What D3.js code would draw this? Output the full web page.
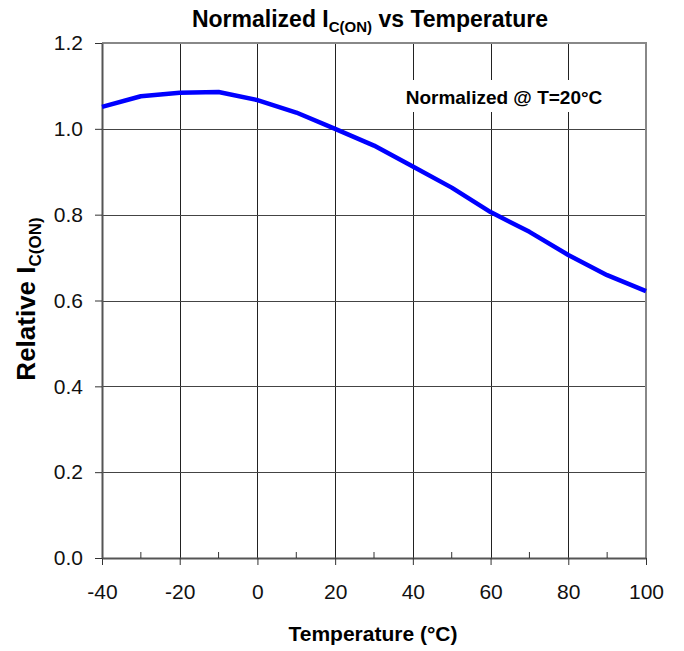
<!DOCTYPE html>
<html lang="en">
<head>
<meta charset="UTF-8">
<title>Normalized IC(ON) vs Temperature</title>
<script src="https://cdnjs.cloudflare.com/ajax/libs/d3/7.8.5/d3.min.js"></script>
<style>
    body { margin: 0; background: #fff; }
    svg { display: block; font-family: "Liberation Sans", Arial, sans-serif; }
</style>
</head>
<body>
<div id="wrapper"></div>
<script>
// values
const temps = [-40, -30, -20, -10, 0, 10, 20, 30, 40, 50, 60, 70, 80, 90, 100];
const relIc = [1.051, 1.076, 1.084, 1.086, 1.067, 1.038, 1.0, 0.961, 0.912, 0.863, 0.806, 0.760, 0.706, 0.659, 0.622];
const xTicks = [-40, -20, 0, 20, 40, 60, 80, 100];
const xMinorTicks = [-30, -10, 10, 30, 50, 70, 90];
const yTicks = [0, 0.2, 0.4, 0.6, 0.8, 1.0, 1.2];
const note = "Normalized @ T=20°C";

const dimensions = {
    width: 684,
    height: 651,
    margin: { top: 43, right: 38, bottom: 93, left: 102 },
}
dimensions.boundedWidth = dimensions.width - dimensions.margin.left - dimensions.margin.right
dimensions.boundedHeight = dimensions.height - dimensions.margin.top - dimensions.margin.bottom

const svg = d3.select("#wrapper").append("svg")
    .attr("width", dimensions.width)
    .attr("height", dimensions.height);

const bounds = svg.append("g")
    .attr("transform", `translate(${dimensions.margin.left},${dimensions.margin.top})`);

const xScale = d3.scaleLinear().domain([-40, 100]).range([0, dimensions.boundedWidth]);
const yScale = d3.scaleLinear().domain([0, 1.2]).range([dimensions.boundedHeight, 0]);

// grid
bounds.append("g").selectAll("line")
    .data(xTicks.slice(1, -1))
    .join("line")
    .attr("x1", d => Math.round(xScale(d)) + 0.5).attr("x2", d => Math.round(xScale(d)) + 0.5)
    .attr("y1", 0).attr("y2", dimensions.boundedHeight)
    .attr("stroke", "#222").attr("stroke-width", 1);

bounds.append("g").selectAll("line")
    .data(yTicks.slice(1, -1))
    .join("line")
    .attr("x1", 0).attr("x2", dimensions.boundedWidth)
    .attr("y1", d => Math.round(yScale(d)) + 0.5).attr("y2", d => Math.round(yScale(d)) + 0.5)
    .attr("stroke", "#444").attr("stroke-width", 1);

// frame top / right
bounds.append("path")
    .attr("d", `M0,0H${dimensions.boundedWidth}V${dimensions.boundedHeight}`)
    .attr("fill", "none").attr("stroke", "#888").attr("stroke-width", 2);

// x axis
const xAxis = bounds.append("g")
    .attr("transform", `translate(0,${dimensions.boundedHeight})`)
    .call(d3.axisBottom(xScale).tickValues(xTicks).tickFormat(d => String(d))
        .tickSize(7).tickSizeOuter(0).tickPadding(19));
xAxis.select(".domain").attr("stroke", "#555").attr("stroke-width", 2);
xAxis.selectAll(".tick line").attr("stroke", "#333");
xAxis.selectAll("text").attr("font-size", 21).attr("font-family", "Liberation Sans, Arial, sans-serif").attr("fill", "#111");

bounds.append("g")
    .attr("transform", `translate(0,${dimensions.boundedHeight})`)
    .selectAll("line")
    .data(xMinorTicks)
    .join("line")
    .attr("x1", d => xScale(d)).attr("x2", d => xScale(d))
    .attr("y1", 0).attr("y2", -6)
    .attr("stroke", "#333");

// y axis
const yAxis = bounds.append("g")
    .call(d3.axisLeft(yScale).tickValues(yTicks).tickFormat(d3.format(".1f")).tickSize(7).tickSizeOuter(0).tickPadding(12));
yAxis.select(".domain").attr("stroke", "#555").attr("stroke-width", 2);
yAxis.selectAll(".tick line").attr("stroke", "#333");
yAxis.selectAll("text").attr("font-size", 21).attr("font-family", "Liberation Sans, Arial, sans-serif").attr("fill", "#111");

// note box
const noteG = bounds.append("g");
noteG.append("rect")
    .attr("x", 294).attr("y", 37).attr("width", 216).attr("height", 32)
    .attr("fill", "#fff");
noteG.append("text")
    .attr("x", 402).attr("y", 61)
    .attr("text-anchor", "middle")
    .attr("font-size", 19).attr("font-weight", "bold")
    .text(note);

// curve
const line = d3.line()
    .x((d, i) => xScale(temps[i]))
    .y(d => yScale(d));

bounds.append("path")
    .datum(relIc)
    .attr("d", line)
    .attr("fill", "none")
    .attr("stroke", "#0000ff")
    .attr("stroke-width", 4.5)
    .attr("stroke-linejoin", "round");

// title
const title = svg.append("text")
    .attr("x", 370).attr("y", 27)
    .attr("text-anchor", "middle")
    .attr("font-size", 23).attr("font-weight", "bold");
title.append("tspan").text("Normalized I");
title.append("tspan").attr("font-size", 15).attr("dy", 5).text("C(ON)");
title.append("tspan").attr("dy", -5).text(" vs Temperature");

// axis titles
svg.append("text")
    .attr("x", 373).attr("y", 641)
    .attr("text-anchor", "middle")
    .attr("font-size", 21).attr("font-weight", "bold")
    .text("Temperature (°C)");

const yLabel = svg.append("text")
    .attr("transform", "translate(35,299) rotate(-90)")
    .attr("text-anchor", "middle")
    .attr("font-size", 26).attr("font-weight", "bold");
yLabel.append("tspan").text("Relative I");
yLabel.append("tspan").attr("font-size", 17).attr("dy", 6).text("C(ON)");
</script>
</body>
</html>
